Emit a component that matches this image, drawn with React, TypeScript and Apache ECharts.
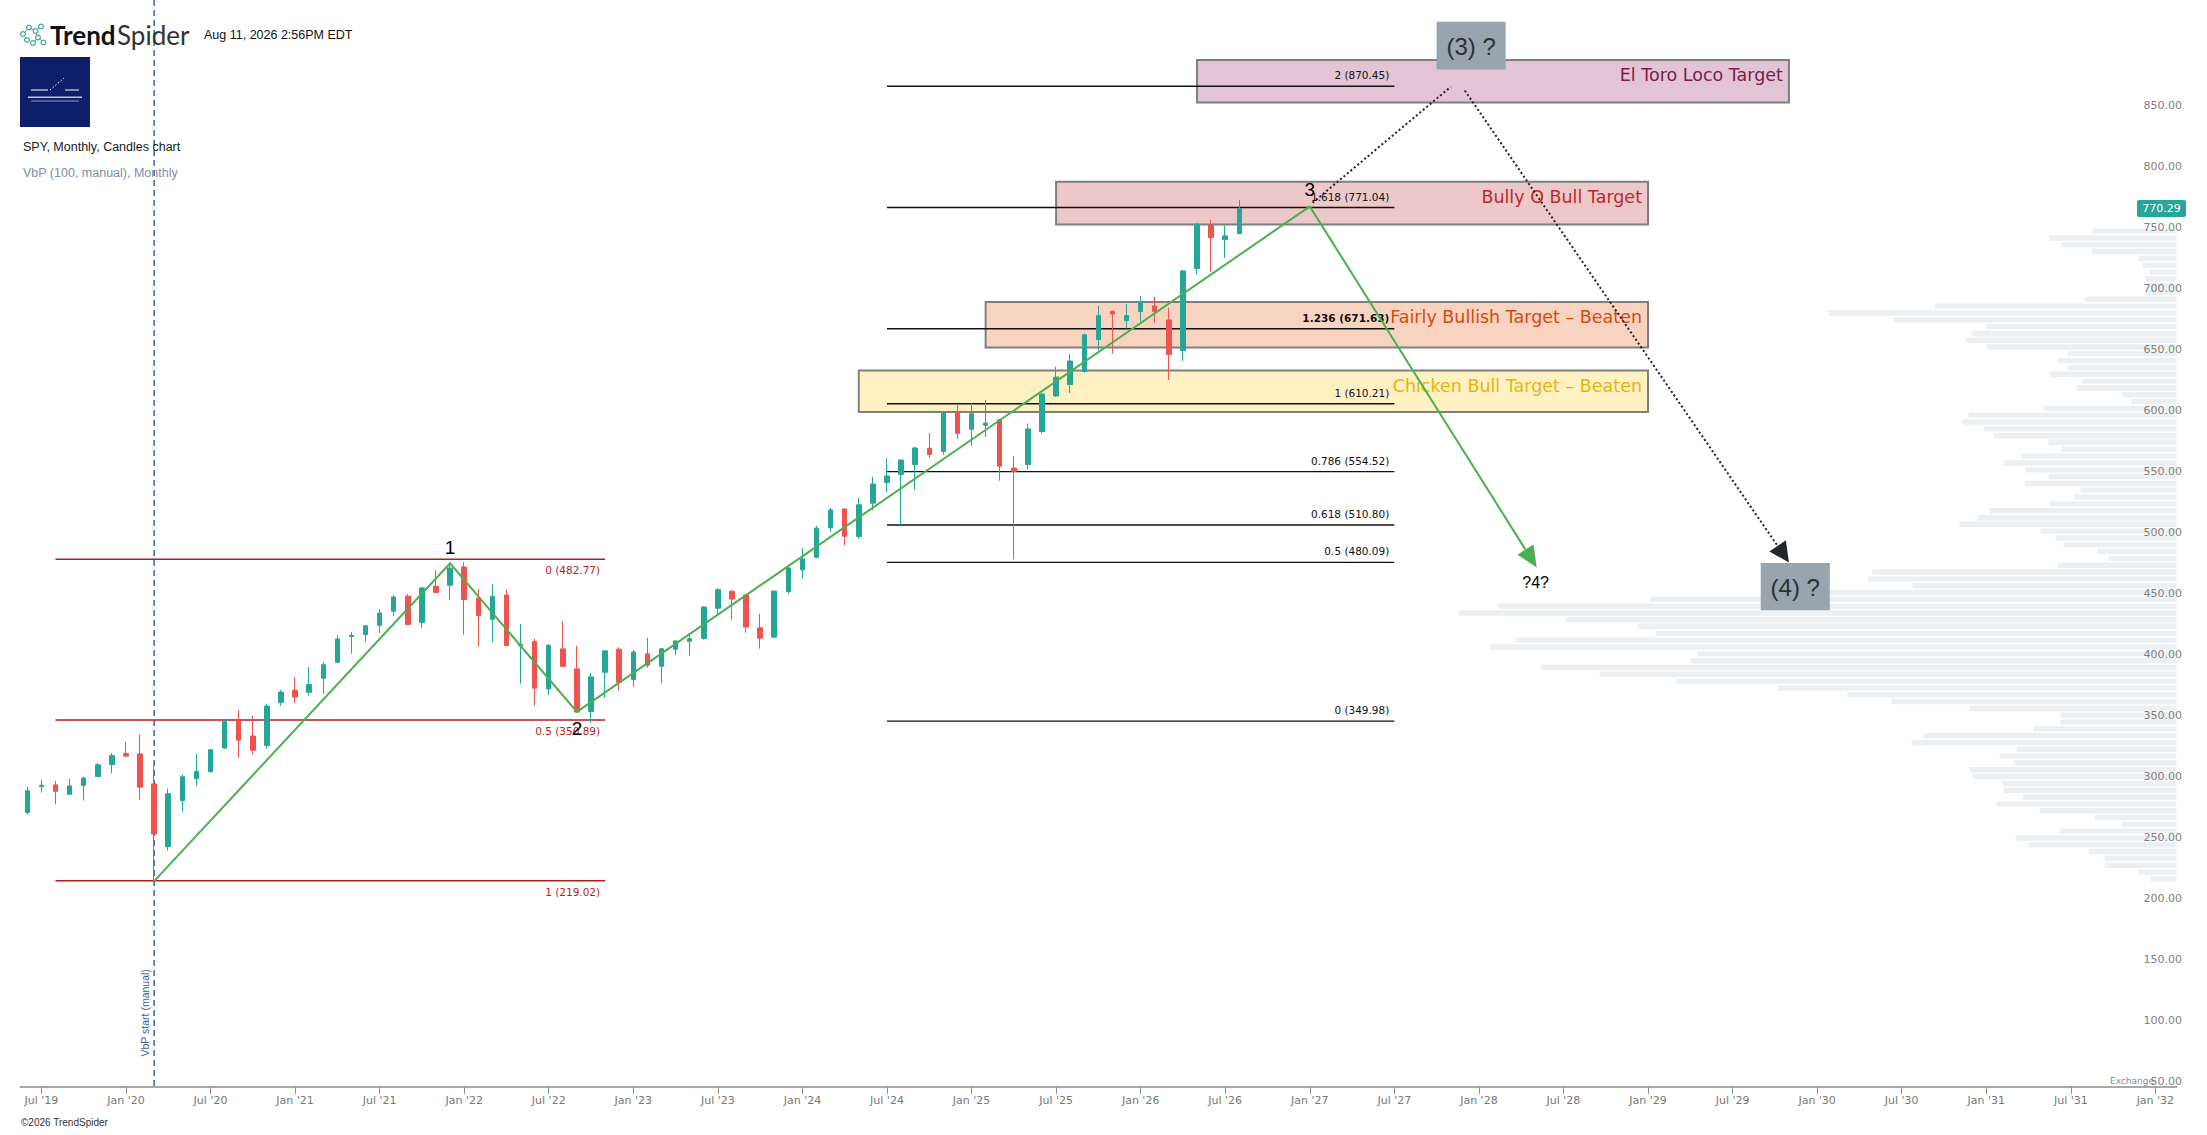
import React, { useEffect, useRef } from "react";
import * as echarts from "echarts";

// ---------- time axis (one category per month) ----------
const MONTH_NAMES = ["Jan", "Feb", "Mar", "Apr", "May", "Jun", "Jul", "Aug", "Sep", "Oct", "Nov", "Dec"];
const FIRST_YEAR = 2019;
const FIRST_MONTH = 5; // June 2019
const AXIS_MONTHS = 153; // Jun 2019 .. Feb 2032
const months: string[] = Array.from({ length: AXIS_MONTHS }, (_, i) => {
  const t = FIRST_MONTH + i;
  const y = FIRST_YEAR + Math.floor(t / 12);
  return `${MONTH_NAMES[t % 12]} '${String(y % 100).padStart(2, "0")}`;
});

// ---------- SPY monthly candles, Jun 2019 .. Aug 2026 ----------
const opens = [
  275.0, 296.3, 297.7, 290.0, 297.2, 304.5, 314.4,
  323.5, 323.1, 298.5, 247.1, 284.8, 302.9, 308.6, 327.9, 350.4, 337.7, 330.0, 365.4,
  375.3, 373.6, 385.2, 398.2, 419.4, 421.0, 428.6, 440.1, 452.4, 430.9, 460.6, 461.4,
  476.3, 450.8, 433.5, 453.4, 411.7, 415.1, 376.3, 409.2, 392.8, 357.8, 390.0, 409.0,
  384.2, 405.1, 394.9, 408.8, 415.4, 417.8, 442.5, 456.5, 453.4, 426.5, 418.8, 456.2,
  474.0, 484.3, 508.8, 523.9, 501.4, 528.7, 545.6, 552.3, 560.4, 573.7, 571.1, 603.4,
  589.2, 592.5, 597.0, 557.4, 560.3, 587.4, 616.6, 626.0, 636.6, 662.8, 686.0, 678.4,
  685.8, 690.4, 678.9, 653.8, 721.0, 756.3, 744.8, 749.7,
];
const highs = [
  296.1, 301.9, 301.0, 302.6, 304.4, 315.6, 323.9,
  333.0, 338.8, 313.9, 294.6, 306.2, 323.2, 327.2, 351.0, 359.0, 354.2, 364.3, 375.5,
  386.0, 394.3, 398.2, 420.5, 423.0, 428.6, 441.9, 453.3, 454.2, 459.7, 473.8, 479.2,
  480.2, 458.3, 462.3, 458.0, 429.7, 417.4, 413.0, 432.1, 411.7, 389.5, 407.7, 410.6,
  408.3, 418.3, 409.7, 415.9, 422.4, 444.3, 459.1, 457.4, 453.6, 438.0, 456.6, 477.0,
  491.8, 510.0, 524.7, 524.6, 533.0, 550.2, 565.6, 564.4, 574.9, 586.2, 603.2, 609.2,
  610.8, 613.4, 597.5, 567.4, 594.0, 618.9, 640.5, 650.8, 667.7, 690.4, 686.4, 692.0,
  698.6, 697.8, 688.8, 719.9, 758.7, 760.9, 756.3, 777.3,
];
const lows = [
  273.5, 291.4, 281.7, 289.5, 284.8, 304.4, 307.1,
  320.4, 285.4, 218.8, 243.9, 276.0, 297.0, 307.5, 327.2, 320.0, 322.4, 327.4, 362.5,
  364.9, 370.7, 372.3, 398.1, 405.2, 415.0, 422.3, 436.3, 428.9, 426.5, 454.8, 449.3,
  420.8, 410.9, 415.1, 411.5, 380.7, 362.5, 371.4, 394.8, 357.3, 348.5, 369.1, 374.9,
  378.0, 393.8, 380.7, 404.1, 403.7, 416.9, 437.7, 433.2, 422.4, 409.4, 418.6, 454.5,
  466.7, 483.9, 505.2, 494.3, 499.6, 523.0, 537.9, 510.5, 539.6, 565.8, 568.2, 581.3,
  575.6, 582.9, 547.1, 482.7, 556.3, 585.7, 615.9, 619.0, 635.7, 654.1, 651.3, 671.8,
  677.6, 676.7, 629.7, 645.3, 716.1, 718.3, 729.8, 749.5,
];
const closes = [
  292.9, 297.4, 292.4, 296.8, 303.3, 314.2, 321.7,
  321.3, 295.8, 257.4, 290.4, 304.3, 308.8, 326.5, 349.8, 334.4, 326.1, 362.3, 373.8,
  369.7, 380.0, 396.2, 417.3, 420.3, 428.1, 438.6, 451.7, 429.1, 459.2, 455.5, 475.5,
  449.7, 436.5, 452.2, 411.9, 412.9, 377.0, 412.2, 394.9, 357.4, 386.2, 407.6, 381.8,
  406.6, 395.8, 409.3, 415.7, 417.6, 443.5, 457.7, 450.0, 427.1, 417.9, 456.6, 475.5,
  482.9, 508.2, 523.1, 501.6, 527.3, 544.4, 550.9, 564.0, 573.9, 568.5, 602.8, 585.9,
  601.9, 594.3, 559.0, 554.7, 589.5, 618.1, 632.0, 645.2, 666.7, 682.4, 683.7, 682.5,
  693.1, 686.0, 650.5, 719.1, 757.3, 746.4, 747.8, 770.29,
];

// ---------- price axis ----------
const Y_MIN = 50;
const Y_MAX = 941.2;
const Y_STEP = 50;
const Y_LAST_LABEL = 850;

// ---------- Volume by Price (100 rows, manual start Mar 2020), top row first ----------
const VBP_TOP = 751.7;
const VBP_STEP = 5.59;
const VBP_MAX = 2156.2;
const vbpVolume = [
  84, 127, 115, 85, 38, 34, 27, 31, 28, 30,
  92, 242, 348, 283, 190, 205, 211, 190, 109, 119,
  109, 126, 94, 100, 55, 45, 133, 208, 214, 193,
  183, 128, 115, 155, 173, 151, 128, 152, 96, 102,
  127, 187, 199, 217, 136, 121, 113, 79, 68, 119,
  304, 309, 264, 350, 526, 678, 718, 611, 539, 521,
  660, 686, 479, 486, 635, 577, 501, 399, 329, 285,
  207, 116, 116, 143, 253, 265, 160, 177, 163, 207,
  204, 174, 173, 154, 180, 137, 82, 55, 117, 161,
  148, 88, 72, 72, 38, 26,
];
const VBP_START_MONTH = 9; // Mar 2020

// ---------- Fibonacci retracement (red) ----------
const redFibLevels = ["0", "0.5", "1"];
const redFibPrices = [482.77, 350.89, 219.02];
const redFibSpan = [2, 41];

// ---------- Fibonacci extension (black) ----------
const extFibLevels = ["2", "1.618", "1.236", "1", "0.786", "0.618", "0.5", "0"];
const extFibPrices = [870.45, 771.04, 671.63, 610.21, 554.52, 510.8, 480.09, 349.98];
const extFibSpan = [61, 97];

// ---------- Target zones ----------
const targetNames = [
  "El Toro Loco Target",
  "Bully O Bull Target",
  "Fairly Bullish Target \u2013 Beaten",
  "Chicken Bull Target \u2013 Beaten",
];
const targetFrom = [83, 73, 68, 59];
const targetTo = [125, 115, 115, 115];
const targetHigh = [892.1, 792.1, 693.7, 637.4];
const targetLow = [857.1, 757.1, 656.2, 603.5];

// ---------- Elliott wave count ----------
const waveMonths = [9, 30, 39, 91];
const wavePrices = [218.8, 479.4, 357.6, 772.0];
const waveLabels = ["", "1", "2", "3"];
const waveTarget = [107.1, 476.0];
const waveTargetLabel = "?4?";

const waveBoxText = ["(3) ?", "(4) ?"];
const waveBoxFrom = [100, 123];
const waveBoxTo = [104.9, 127.9];
const waveBoxHigh = [923.3, 479.7];
const waveBoxLow = [884.2, 440.8];

const projUpFrom = [91.2, 775.0];
const projUpTo = [101.0, 870.0];
const projDownFrom = [102.0, 867.0];
const projDownTo = [125.0, 480.1];

// ---------- styles ----------
const UP = "#26a69a";
const DOWN = "#ef5350";
const targetFill = ["#e2c4d4", "#ecc8c9", "#f8d4c0", "#fff1c2"];
const targetText = ["#7a1d4a", "#c1272d", "#d9480f", "#e6b50a"];
const SANS = "'DejaVu Sans', sans-serif";
const LIB = "'Liberation Sans', Arial, sans-serif";

function arrowHead(tip: number[], from: number[], len: number, half: number) {
  const dx = tip[0] - from[0];
  const dy = tip[1] - from[1];
  const d = Math.hypot(dx, dy) || 1;
  const ux = dx / d;
  const uy = dy / d;
  const bx = tip[0] - ux * len;
  const by = tip[1] - uy * len;
  return {
    base: [bx, by],
    points: [
      [tip[0], tip[1]],
      [bx - uy * half, by + ux * half],
      [bx + uy * half, by - ux * half],
    ],
  };
}

const isHalfYear = (_i: number, v: string) => v.startsWith("Jan") || v.startsWith("Jul");

function buildOption(): any {
  const lastClose = closes[closes.length - 1];

  const vbpSeries = {
    type: "custom",
    name: "VbP",
    xAxisIndex: 2,
    yAxisIndex: 0,
    z: 1,
    silent: true,
    data: vbpVolume.map((v, i) => [v, VBP_TOP - i * VBP_STEP]),
    renderItem: (_p: any, api: any) => {
      const v = api.value(0);
      const price = api.value(1);
      const a = api.coord([0, price]);
      const b = api.coord([v, price]);
      const h = Math.abs(api.size([0, VBP_STEP])[1]) * 0.8;
      return {
        type: "rect",
        shape: { x: Math.min(a[0], b[0]), y: a[1] - h / 2, width: Math.abs(a[0] - b[0]), height: h },
        style: { fill: "#edf0f2" },
      };
    },
  };

  const targetSeries = {
    type: "custom",
    name: "Targets",
    xAxisIndex: 1,
    yAxisIndex: 0,
    z: 2,
    silent: true,
    data: targetNames.map((_, i) => [targetFrom[i], targetHigh[i], targetTo[i], targetLow[i]]),
    renderItem: (params: any, api: any) => {
      const i = params.dataIndex;
      const a = api.coord([api.value(0), api.value(1)]);
      const b = api.coord([api.value(2), api.value(3)]);
      return {
        type: "group",
        children: [
          {
            type: "rect",
            shape: { x: a[0], y: a[1], width: b[0] - a[0], height: b[1] - a[1] },
            style: { fill: targetFill[i], stroke: "#7f7f7f", lineWidth: 2 },
          },
          {
            type: "text",
            x: b[0] - 6,
            y: a[1] + 15,
            style: {
              text: targetNames[i],
              fill: targetText[i],
              fontSize: 17.5,
              fontFamily: SANS,
              align: "right",
              verticalAlign: "middle",
            },
          },
        ],
      };
    },
  };

  const fibSeries = {
    type: "custom",
    name: "Fibs",
    xAxisIndex: 1,
    yAxisIndex: 0,
    z: 3,
    silent: true,
    data: [[76, 500]],
    renderItem: (_p: any, api: any) => {
      const children: any[] = [];
      const t = api.coord([VBP_START_MONTH, Y_MAX]);
      const bt = api.coord([VBP_START_MONTH, Y_MIN]);
      children.push({
        type: "line",
        shape: { x1: t[0], y1: t[1], x2: bt[0], y2: bt[1] },
        style: { stroke: "#3d5f99", lineWidth: 1.5, lineDash: [6, 4] },
      });
      const vlabel = api.coord([VBP_START_MONTH, 110.8]);
      children.push({
        type: "text",
        x: vlabel[0] - 9,
        y: vlabel[1],
        rotation: Math.PI / 2,
        style: {
          text: "VbP start (manual)",
          fill: "#3d5f99",
          fontSize: 10.5,
          fontFamily: LIB,
          align: "center",
          verticalAlign: "middle",
        },
      });
      redFibPrices.forEach((p, i) => {
        const a = api.coord([redFibSpan[0], p]);
        const b = api.coord([redFibSpan[1], p]);
        children.push({
          type: "line",
          shape: { x1: a[0], y1: a[1], x2: b[0], y2: b[1] },
          style: { stroke: "#b71c1c", lineWidth: 1.5 },
        });
        children.push({
          type: "text",
          x: b[0] - 5,
          y: b[1] + 11,
          style: {
            text: `${redFibLevels[i]} (${p.toFixed(2)})`,
            fill: "#b71c1c",
            fontSize: 10.5,
            fontFamily: SANS,
            align: "right",
            verticalAlign: "middle",
          },
        });
      });
      extFibPrices.forEach((p, i) => {
        const a = api.coord([extFibSpan[0], p]);
        const b = api.coord([extFibSpan[1], p]);
        children.push({
          type: "line",
          shape: { x1: a[0], y1: a[1], x2: b[0], y2: b[1] },
          style: { stroke: "#111111", lineWidth: 1.4 },
        });
        children.push({
          type: "text",
          x: b[0] - 5,
          y: b[1] - 11,
          style: {
            text: `${extFibLevels[i]} (${p.toFixed(2)})`,
            fill: "#111111",
            fontSize: 10.5,
            fontWeight: extFibLevels[i] === "1.236" ? "bold" : "normal",
            fontFamily: SANS,
            align: "right",
            verticalAlign: "middle",
          },
        });
      });
      return { type: "group", children };
    },
  };

  const candleSeries = {
    type: "candlestick",
    name: "SPY",
    xAxisIndex: 0,
    yAxisIndex: 0,
    z: 4,
    barWidth: 5,
    data: opens.map((o, i) => [o, closes[i], lows[i], highs[i]]),
    itemStyle: { color: UP, color0: DOWN, borderColor: UP, borderColor0: DOWN, borderWidth: 1 },
  };

  const waveSeries = {
    type: "custom",
    name: "Waves",
    xAxisIndex: 1,
    yAxisIndex: 0,
    z: 5,
    silent: true,
    data: [[76, 500]],
    renderItem: (_p: any, api: any) => {
      const children: any[] = [];
      const pts = waveMonths.map((m, i) => api.coord([m, wavePrices[i]]));
      children.push({
        type: "polyline",
        shape: { points: pts },
        style: { stroke: "#4caf50", lineWidth: 2, fill: null },
      });
      const p3 = pts[pts.length - 1];
      const tip = api.coord(waveTarget);
      const ah = arrowHead(tip, p3, 21, 9.5);
      children.push({
        type: "line",
        shape: { x1: p3[0], y1: p3[1], x2: ah.base[0], y2: ah.base[1] },
        style: { stroke: "#4caf50", lineWidth: 2 },
      });
      children.push({ type: "polygon", shape: { points: ah.points }, style: { fill: "#4caf50" } });

      const u0 = api.coord(projUpFrom);
      const u1 = api.coord(projUpTo);
      children.push({
        type: "line",
        shape: { x1: u0[0], y1: u0[1], x2: u1[0], y2: u1[1] },
        style: { stroke: "#222222", lineWidth: 2, lineDash: [2, 2.5] },
      });
      const d0 = api.coord(projDownFrom);
      const d1 = api.coord(projDownTo);
      const bh = arrowHead(d1, d0, 20, 10);
      children.push({
        type: "line",
        shape: { x1: d0[0], y1: d0[1], x2: bh.base[0], y2: bh.base[1] },
        style: { stroke: "#222222", lineWidth: 2, lineDash: [2, 2.5] },
      });
      children.push({ type: "polygon", shape: { points: bh.points }, style: { fill: "#22262b" } });
      return { type: "group", children };
    },
  };

  const labelSeries = {
    type: "custom",
    name: "Labels",
    xAxisIndex: 1,
    yAxisIndex: 0,
    z: 10,
    silent: true,
    data: [[76, 500]],
    renderItem: (_p: any, api: any) => {
      const children: any[] = [];
      const offs = [0, -16, 17, -16.5];
      waveMonths.forEach((m, i) => {
        if (!waveLabels[i]) return;
        const c = api.coord([m, wavePrices[i]]);
        children.push({
          type: "text",
          x: c[0],
          y: c[1] + offs[i],
          style: {
            text: waveLabels[i],
            fill: "#000000",
            fontSize: 19,
            fontFamily: LIB,
            align: "center",
            verticalAlign: "middle",
          },
        });
      });
      const tc = api.coord(waveTarget);
      children.push({
        type: "text",
        x: tc[0] - 1,
        y: tc[1] + 15,
        style: {
          text: waveTargetLabel,
          fill: "#000000",
          fontSize: 16,
          fontFamily: LIB,
          align: "center",
          verticalAlign: "middle",
        },
      });
      waveBoxText.forEach((txt, i) => {
        const a = api.coord([waveBoxFrom[i], waveBoxHigh[i]]);
        const b = api.coord([waveBoxTo[i], waveBoxLow[i]]);
        children.push({
          type: "rect",
          shape: { x: a[0], y: a[1], width: b[0] - a[0], height: b[1] - a[1] },
          style: { fill: "#98a4ae" },
        });
        children.push({
          type: "text",
          x: (a[0] + b[0]) / 2,
          y: (a[1] + b[1]) / 2 + 1,
          style: {
            text: txt,
            fill: "#2b3036",
            fontSize: 24,
            fontFamily: LIB,
            align: "center",
            verticalAlign: "middle",
          },
        });
      });
      const pt = api.coord([AXIS_MONTHS - 0.5, lastClose]);
      children.push({
        type: "rect",
        shape: { x: pt[0] - 39.5, y: pt[1] - 8.5, width: 49, height: 17, r: 2 },
        style: { fill: UP },
      });
      children.push({
        type: "text",
        x: pt[0] - 15,
        y: pt[1] + 0.5,
        style: {
          text: lastClose.toFixed(2),
          fill: "#ffffff",
          fontSize: 11,
          fontFamily: SANS,
          align: "center",
          verticalAlign: "middle",
        },
      });
      return { type: "group", children };
    },
  };

  const logoDots = [
    [23, 34], [29, 27.5], [35.5, 31], [41, 26.5], [38, 37.5], [43.5, 42.5], [33, 43], [27, 40],
  ];
  const logoLinks = [
    [0, 1], [1, 2], [2, 4], [4, 6], [2, 3], [4, 5],
  ];

  const graphic: any[] = [
    ...logoLinks.map(([a, b]) => ({
      type: "line",
      z: 100,
      shape: { x1: logoDots[a][0], y1: logoDots[a][1], x2: logoDots[b][0], y2: logoDots[b][1] },
      style: { stroke: "#4aa8a4", lineWidth: 1 },
    })),
    ...logoDots.map(([x, y]) => ({
      type: "circle",
      z: 101,
      shape: { cx: x, cy: y, r: 2.4 },
      style: { fill: "#ffffff", stroke: "#3f9f9a", lineWidth: 1.2 },
    })),
    {
      type: "text",
      z: 100,
      x: 50,
      y: 35,
      style: { text: "Trend", fill: "#111111", fontSize: 26, fontWeight: "bold", fontFamily: "Lato, sans-serif", verticalAlign: "middle" },
    },
    {
      type: "text",
      z: 100,
      x: 117,
      y: 35,
      style: { text: "Spider", fill: "#333333", fontSize: 26, fontWeight: "normal", fontFamily: "Lato, sans-serif", verticalAlign: "middle" },
    },
    {
      type: "text",
      z: 100,
      x: 204,
      y: 35,
      style: { text: "Aug 11, 2026 2:56PM EDT", fill: "#111111", fontSize: 12.5, fontFamily: LIB, verticalAlign: "middle" },
    },
    { type: "rect", z: 100, shape: { x: 20, y: 57, width: 70, height: 70 }, style: { fill: "#0d1f6b" } },
    { type: "rect", z: 101, shape: { x: 31, y: 89.5, width: 17, height: 1 }, style: { fill: "#ffffff" } },
    { type: "rect", z: 101, shape: { x: 65, y: 89.5, width: 14, height: 1 }, style: { fill: "#ffffff" } },
    {
      type: "line",
      z: 101,
      shape: { x1: 50, y1: 90, x2: 64, y2: 78 },
      style: { stroke: "#ffffff", lineWidth: 1, lineDash: [1.5, 2] },
    },
    { type: "rect", z: 101, shape: { x: 28, y: 96.5, width: 54, height: 1.4 }, style: { fill: "#ffffff", opacity: 0.75 } },
    { type: "rect", z: 101, shape: { x: 31, y: 100.5, width: 48, height: 1 }, style: { fill: "#ffffff", opacity: 0.55 } },
    {
      type: "text",
      z: 100,
      x: 23,
      y: 147,
      style: { text: "SPY, Monthly, Candles chart", fill: "#1a1a1a", fontSize: 12.5, fontFamily: LIB, verticalAlign: "middle" },
    },
    {
      type: "text",
      z: 100,
      x: 23,
      y: 173,
      style: { text: "VbP (100, manual), Monthly", fill: "#7d8fa5", fontSize: 12.5, fontFamily: LIB, verticalAlign: "middle" },
    },
    {
      type: "text",
      z: 100,
      x: 21,
      y: 1122,
      style: { text: "\u00a92026 TrendSpider", fill: "#333333", fontSize: 10, fontFamily: LIB, verticalAlign: "middle" },
    },
    {
      type: "text",
      z: 100,
      x: 2110,
      y: 1081,
      style: { text: "Exchange", fill: "#8a8a8a", fontSize: 9, fontFamily: SANS, verticalAlign: "middle" },
    },
  ];

  return {
    animation: false,
    backgroundColor: "#ffffff",
    grid: { left: 20.25, right: 30.5, top: 0, bottom: 48, containLabel: false },
    xAxis: [
      {
        type: "category",
        data: months,
        boundaryGap: true,
        axisLine: { show: true, lineStyle: { color: "#8c8c8c", width: 1.5 } },
        axisTick: { show: true, alignWithLabel: true, interval: isHalfYear, length: 7, lineStyle: { color: "#8c8c8c" } },
        axisLabel: { interval: isHalfYear, color: "#777777", fontSize: 11, fontFamily: SANS, margin: 8 },
        splitLine: { show: false },
        z: 20,
      },
      { type: "value", min: -0.5, max: AXIS_MONTHS - 0.5, show: false },
      { type: "value", min: 0, max: VBP_MAX, inverse: true, show: false },
    ],
    yAxis: [
      {
        type: "value",
        position: "right",
        min: Y_MIN,
        max: Y_MAX,
        interval: Y_STEP,
        z: 20,
        axisLine: { show: false },
        axisTick: { show: false },
        splitLine: { show: false },
        axisLabel: {
          show: true,
          showMaxLabel: false,
          align: "right",
          verticalAlign: "bottom",
          margin: 5.5,
          color: "#808080",
          fontSize: 11,
          fontFamily: SANS,
          formatter: (v: number) => (v > Y_LAST_LABEL + 1 ? "" : v.toFixed(2)),
        },
      },
    ],
    graphic,
    series: [vbpSeries, targetSeries, fibSeries, candleSeries, waveSeries, labelSeries],
  };
}

export default function App() {
  const ref = useRef<HTMLDivElement>(null);
  useEffect(() => {
    if (!ref.current) return;
    const chart = echarts.init(ref.current, null, { renderer: "svg" });
    chart.setOption(buildOption());
    return () => chart.dispose();
  }, []);
  return (
    <div
      ref={ref}
      style={{ position: "fixed", left: 0, top: 0, width: 2207, height: 1135, background: "#ffffff" }}
    />
  );
}
